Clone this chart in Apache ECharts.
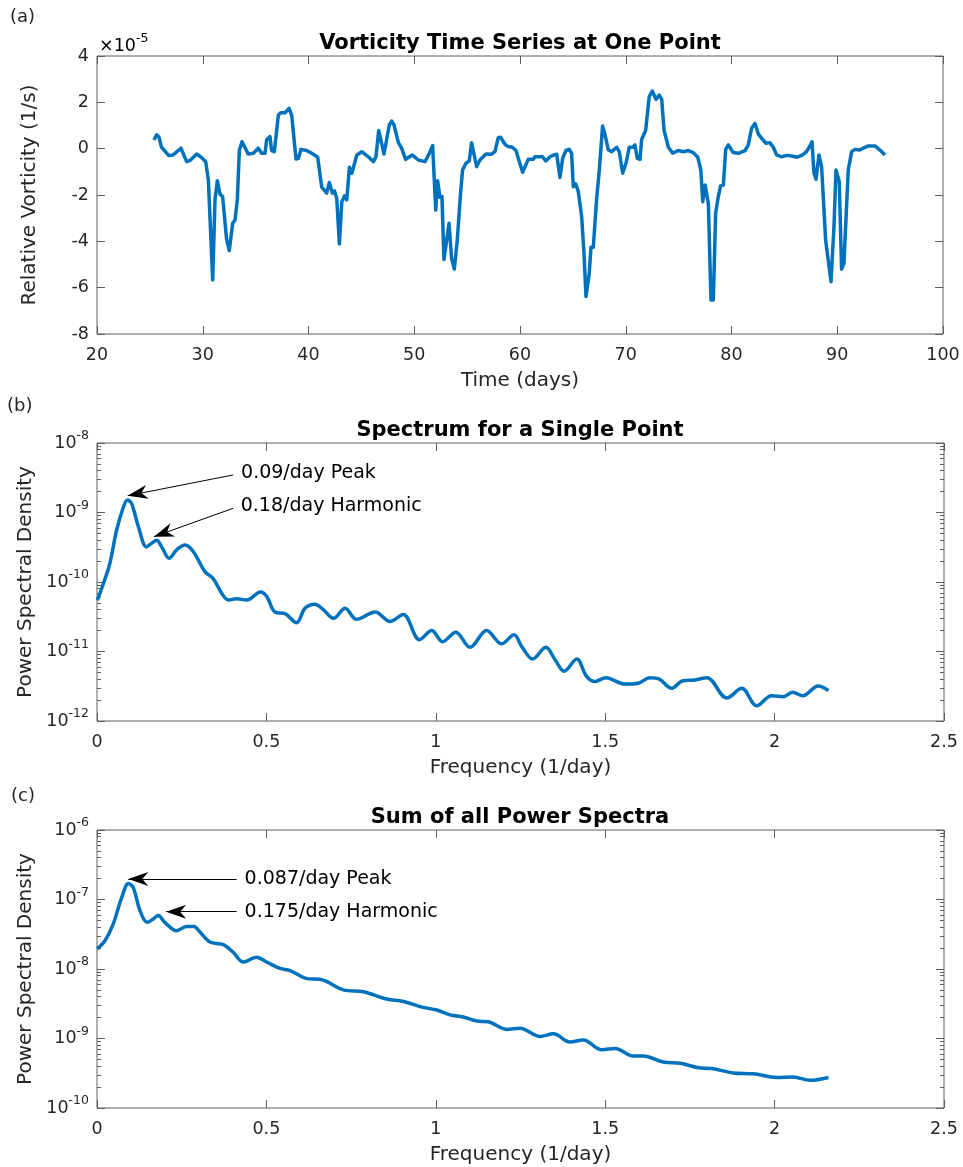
<!DOCTYPE html>
<html><head><meta charset="utf-8">
<script src="https://cdn.jsdelivr.net/npm/echarts@6/dist/echarts.min.js"></script>
<style>html,body{margin:0;padding:0;background:#fff}#c{width:963px;height:1167px}</style>
</head><body><div id="c"></div>
<script>
// ---------- (a) vorticity time series, values in units of 1e-5 1/s ----------
const timeDays = [25.39,25.64,25.86,26.1,26.8,27.2,27.94,28.48,28.8,29.43,29.9,30.28,30.53,30.94,31.16,31.38,31.63,31.88,32.26,32.51,32.83,33.05,33.27,33.46,33.71,34.3,34.78,35.25,35.57,35.89,36.04,36.36,36.51,36.77,37.15,37.37,37.78,38.16,38.41,38.82,39.04,39.29,39.83,40.3,40.87,41.25,41.72,41.97,42.26,42.45,42.67,42.92,43.15,43.4,43.62,43.87,44.1,44.57,45.04,45.66,46.14,46.38,46.64,47.14,47.64,47.86,48.09,48.5,48.8,49.18,49.81,50.38,51.02,51.43,51.74,52.03,52.21,52.43,52.62,52.81,53.29,53.53,53.79,54.07,54.38,54.57,54.89,55.2,55.42,55.9,56.21,56.78,57.31,57.63,57.94,58.17,58.58,58.89,59.27,59.62,59.94,60.25,60.78,61.26,61.42,62.14,62.43,62.84,63.22,63.47,63.78,64.03,64.35,64.66,64.88,65.04,65.26,65.51,65.83,66.05,66.24,66.55,66.71,66.93,67.24,67.5,67.81,68.04,68.35,68.67,69.14,69.39,69.71,70.02,70.33,70.65,70.87,71.09,71.35,71.5,71.88,72.22,72.51,72.86,73.17,73.4,73.62,74.03,74.44,74.97,75.45,75.92,76.39,76.81,77.1,77.28,77.5,77.66,77.81,78.06,78.28,78.5,78.75,78.97,79.23,79.45,79.7,80.17,80.65,81.28,81.59,81.9,82.22,82.54,82.94,83.26,83.63,83.95,84.27,84.74,85.21,85.68,86.22,86.72,87.1,87.42,87.61,87.8,87.99,88.27,88.52,88.9,89.41,89.69,89.88,90.19,90.41,90.63,91.04,91.36,91.68,92.09,92.46,92.94,93.57,93.73,94.04,94.51];
const vorticity = [0.37,0.6,0.5,0.06,-0.3,-0.27,0.02,-0.56,-0.51,-0.23,-0.39,-0.56,-1.35,-5.67,-2.2,-1.38,-1.96,-2.07,-3.94,-4.4,-3.22,-3.08,-2.2,-0.08,0.3,-0.23,-0.2,0.02,-0.2,-0.2,0.38,0.52,-0.08,-0.13,1.45,1.55,1.55,1.74,1.45,-0.45,-0.42,-0.03,-0.08,-0.2,-0.37,-1.66,-1.92,-1.46,-1.92,-1.82,-2.14,-4.11,-2.29,-2.04,-2.21,-0.8,-1.06,-0.27,-0.13,-0.35,-0.56,-0.35,0.78,-0.23,1.02,1.19,1.02,0.26,0.02,-0.46,-0.27,-0.49,-0.56,-0.2,0.13,-2.65,-1.38,-2.1,-2.07,-4.78,-3.22,-4.73,-5.2,-3.94,-1.92,-0.92,-0.63,-0.53,0.26,-0.78,-0.49,-0.23,-0.24,-0.13,0.47,0.49,0.19,0.09,0.06,-0.08,-0.56,-1.02,-0.46,-0.46,-0.35,-0.35,-0.53,-0.35,-0.27,-0.24,-1.24,-0.42,-0.08,-0.03,-0.2,-1.64,-1.52,-1.85,-2.93,-4.51,-6.38,-5.38,-4.26,-4.26,-2.21,-0.92,0.98,0.6,-0.05,-0.13,0.06,-0.13,-1.06,-0.63,0.06,0.06,0.16,-0.42,-0.46,0.4,0.78,2.24,2.49,2.13,2.31,2.13,0.8,0.06,-0.2,-0.08,-0.13,-0.08,-0.17,-0.37,-0.92,-2.29,-1.57,-1.57,-2.36,-6.53,-6.53,-2.79,-2.07,-1.61,-1.57,-0.03,0.16,-0.17,-0.2,-0.08,0.16,0.88,1.09,0.63,0.4,0.23,0.26,0.06,-0.27,-0.35,-0.29,-0.32,-0.37,-0.27,-0.13,0.12,0.3,-1.06,-1.32,-0.27,-0.78,-3.94,-5.74,-3.37,-0.92,-1.42,-5.2,-4.97,-0.92,-0.13,-0.03,-0.06,0.02,0.12,0.12,0.12,-0.06,-0.27];
const timeTicks = [20,30,40,50,60,70,80,90,100];
const vortTicks = [-8,-6,-4,-2,0,2,4];

// ---------- (b) spectrum for a single point ----------
const freqSingle = [0.001,0.019,0.038,0.058,0.078,0.09,0.102,0.122,0.146,0.161,0.176,0.191,0.213,0.235,0.26,0.284,0.319,0.343,0.368,0.388,0.412,0.442,0.483,0.501,0.525,0.555,0.589,0.614,0.643,0.668,0.698,0.732,0.766,0.821,0.865,0.904,0.952,0.988,1.02,1.059,1.101,1.15,1.194,1.231,1.254,1.286,1.325,1.352,1.379,1.416,1.445,1.47,1.502,1.558,1.598,1.632,1.66,1.696,1.729,1.765,1.8,1.859,1.903,1.947,1.991,2.026,2.053,2.083,2.129,2.159];
const psdSingle = [5.5e-11,9.5e-11,1.86e-10,5.6e-10,1.2e-9,1.51e-9,1.35e-9,6.3e-10,3.2e-10,3.6e-10,4.0e-10,3.2e-10,2.2e-10,2.9e-10,3.4e-10,2.75e-10,1.4e-10,1.12e-10,6.9e-11,5.5e-11,5.75e-11,5.5e-11,7.2e-11,6.2e-11,3.7e-11,3.5e-11,2.6e-11,4.2e-11,4.8e-11,4.0e-11,3.0e-11,4.2e-11,2.9e-11,3.7e-11,2.7e-11,3.4e-11,1.48e-11,2.0e-11,1.38e-11,1.9e-11,1.15e-11,2.0e-11,1.29e-11,1.74e-11,1.17e-11,7.8e-12,1.15e-11,7.6e-12,5.2e-12,7.8e-12,4.4e-12,3.7e-12,4.2e-12,3.4e-12,3.5e-12,4.2e-12,4.0e-12,2.95e-12,3.8e-12,3.9e-12,4.2e-12,2.14e-12,2.95e-12,1.66e-12,2.3e-12,2.24e-12,2.6e-12,2.3e-12,3.2e-12,2.75e-12];
const psdSingleTicks = [1e-12,1e-11,1e-10,1e-9,1e-8];

// ---------- (c) sum of all power spectra ----------
const freqSum = [0.001,0.024,0.048,0.073,0.093,0.107,0.127,0.148,0.166,0.181,0.2,0.235,0.264,0.286,0.304,0.333,0.373,0.402,0.432,0.471,0.501,0.54,0.57,0.614,0.668,0.727,0.786,0.855,0.904,0.963,1.003,1.042,1.081,1.121,1.155,1.209,1.248,1.308,1.347,1.396,1.435,1.49,1.529,1.583,1.612,1.671,1.721,1.775,1.814,1.878,1.937,2.006,2.055,2.104,2.159];
const psdSum = [1.95e-8,2.57e-8,4.47e-8,1.07e-7,1.7e-7,1.48e-7,6.9e-8,4.7e-8,5.25e-8,5.9e-8,4.7e-8,3.55e-8,4.1e-8,4.1e-8,3.4e-8,2.45e-8,2.24e-8,1.74e-8,1.26e-8,1.48e-8,1.26e-8,1.02e-8,9.5e-9,7.4e-9,6.9e-9,5.0e-9,4.7e-9,3.7e-9,3.4e-9,2.8e-9,2.57e-9,2.19e-9,2.04e-9,1.78e-9,1.74e-9,1.35e-9,1.41e-9,1.07e-9,1.17e-9,8.9e-10,9.5e-10,6.9e-10,7.2e-10,5.6e-10,5.6e-10,4.6e-10,4.4e-10,3.8e-10,3.7e-10,3.2e-10,3.1e-10,2.75e-10,2.8e-10,2.5e-10,2.75e-10];
const psdSumTicks = [1e-10,1e-9,1e-8,1e-7,1e-6];
const freqTicks = [0,0.5,1,1.5,2,2.5];

// ---------- annotations: [text, from (freq, psd), to (freq, psd)] ----------
const notesSingle = [
  ['0.09/day Peak', [0.402, 3.47e-9], [0.0906, 1.745e-9]],
  ['0.18/day Harmonic', [0.402, 1.15e-9], [0.168, 4.49e-10]]
];
const notesSum = [
  ['0.087/day Peak', [0.412, 1.97e-7], [0.0924, 1.97e-7]],
  ['0.175/day Harmonic', [0.412, 6.67e-8], [0.204, 6.67e-8]]
];

const FONT = 'DejaVu Sans';
const AX = '#262626';
const BOX = '#5e5e5e';
const BLUE = '#0072BD';

function zip(a, b) { return a.map((v, i) => [v, b[i]]); }
function minorTicks(ticks) {
  const out = [];
  for (let i = 0; i < ticks.length - 1; i++) for (let m = 2; m <= 9; m++) out.push(m * ticks[i]);
  return out;
}

const lbl = { color: AX, fontSize: 17.5, fontFamily: FONT };
const nameStyle = { color: AX, fontSize: 20, fontFamily: FONT };
const powRich = {
  b: { fontSize: 17.5, fontFamily: FONT, color: AX, lineHeight: 26, verticalAlign: 'middle' },
  s: { fontSize: 12.5, fontFamily: FONT, color: AX, lineHeight: 13, padding: [0, 0, 14, 0], verticalAlign: 'middle' }
};
function powLabel(v) { return '{b|10}{s|' + Math.round(Math.log10(v)) + '}'; }

function xAxis(grid, ticks, main, name) {
  return {
    type: 'value', gridIndex: grid, min: ticks[0], max: ticks[ticks.length - 1],
    interval: ticks[1] - ticks[0], position: main ? 'bottom' : 'top', offset: 0,
    axisLine: { show: false, onZero: false }, splitLine: { show: false },
    axisTick: { show: true, inside: true, length: 8, lineStyle: { color: BOX } },
    axisLabel: Object.assign({ show: main, margin: 12 }, lbl),
    name: main ? name : '', nameLocation: 'middle', nameGap: 37, nameTextStyle: nameStyle
  };
}
function yLin(grid, ticks, side, name) {
  const main = side === 'left';
  return {
    type: 'value', gridIndex: grid, min: ticks[0], max: ticks[ticks.length - 1],
    interval: ticks[1] - ticks[0], position: side, offset: 0,
    axisLine: { show: false, onZero: false }, splitLine: { show: false },
    axisTick: { show: true, inside: true, length: 8, lineStyle: { color: BOX } },
    axisLabel: Object.assign({ show: main, margin: 8 }, lbl),
    name: main ? name : '', nameLocation: 'middle', nameGap: 57, nameTextStyle: nameStyle
  };
}
function yLog(grid, ticks, side, major, name) {
  const main = side === 'left' && major;
  return {
    type: 'log', logBase: 10, gridIndex: grid, min: ticks[0], max: ticks[ticks.length - 1],
    position: side, offset: 0,
    axisLine: { show: false, onZero: false }, splitLine: { show: false },
    axisTick: { show: true, inside: true, length: major ? 8 : 4, lineStyle: { color: BOX },
      customValues: major ? ticks : minorTicks(ticks) },
    axisLabel: main ? { show: true, margin: 8, customValues: ticks, formatter: powLabel, rich: powRich }
                    : { show: false },
    name: main ? name : '', nameLocation: 'middle', nameGap: 57, nameTextStyle: nameStyle
  };
}

// dart-shaped arrow head; the empty sub-path in front extends the bounds so the tip sits on the end point
const arrowPath = 'path://M7,-20 L7,-20 M7,0 L14,20 L7,14 L0,20 Z';
function noteLines(notes) {
  return {
    silent: true, animation: false,
    symbol: ['none', arrowPath], symbolSize: [14, 40],
    lineStyle: { color: '#000', width: 1, type: 'solid' },
    label: { show: true, position: 'start', distance: 8, formatter: '{b}', color: '#000', fontSize: 19, fontFamily: FONT },
    emphasis: { disabled: true },
    data: notes.map(n => [{ coord: n[1], name: n[0] }, { coord: n[2] }])
  };
}

const gridBase = { show: true, borderColor: BOX, borderWidth: 1, backgroundColor: '#fff', containLabel: false, outerBoundsMode: 'none' };
const titleFont = 'bold 21px "DejaVu Sans"';
const tagFont = '18px "DejaVu Sans"';
const option = {
  animation: false,
  backgroundColor: '#fff',
  textStyle: { fontFamily: FONT },
  grid: [
    Object.assign({ left: 97, top: 56, width: 846, height: 278 }, gridBase),
    Object.assign({ left: 97, top: 443, width: 847, height: 278 }, gridBase),
    Object.assign({ left: 97, top: 830, width: 847, height: 278 }, gridBase)
  ],
  xAxis: [
    xAxis(0, timeTicks, true, 'Time (days)'), xAxis(0, timeTicks, false),
    xAxis(1, freqTicks, true, 'Frequency (1/day)'), xAxis(1, freqTicks, false),
    xAxis(2, freqTicks, true, 'Frequency (1/day)'), xAxis(2, freqTicks, false)
  ],
  yAxis: [
    yLin(0, vortTicks, 'left', 'Relative Vorticity (1/s)'), yLin(0, vortTicks, 'right'),
    yLog(1, psdSingleTicks, 'left', true, 'Power Spectral Density'), yLog(1, psdSingleTicks, 'right', true),
    yLog(1, psdSingleTicks, 'left', false), yLog(1, psdSingleTicks, 'right', false),
    yLog(2, psdSumTicks, 'left', true, 'Power Spectral Density'), yLog(2, psdSumTicks, 'right', true),
    yLog(2, psdSumTicks, 'left', false), yLog(2, psdSumTicks, 'right', false)
  ],
  series: [
    { type: 'line', xAxisIndex: 0, yAxisIndex: 0, data: zip(timeDays, vorticity), showSymbol: false,
      lineStyle: { color: BLUE, width: 3.5, join: 'round' }, itemStyle: { color: BLUE } },
    { type: 'line', xAxisIndex: 2, yAxisIndex: 2, data: zip(freqSingle, psdSingle), showSymbol: false, smooth: 0.35,
      lineStyle: { color: BLUE, width: 3.5 }, itemStyle: { color: BLUE }, markLine: noteLines(notesSingle) },
    { type: 'line', xAxisIndex: 4, yAxisIndex: 6, data: zip(freqSum, psdSum), showSymbol: false, smooth: 0.35,
      lineStyle: { color: BLUE, width: 3.5 }, itemStyle: { color: BLUE }, markLine: noteLines(notesSum) }
  ],
  graphic: [
    { type: 'text', x: 10, y: 17, style: { text: '(a)', font: tagFont, fill: AX, verticalAlign: 'middle' } },
    { type: 'text', x: 7, y: 406, style: { text: '(b)', font: tagFont, fill: AX, verticalAlign: 'middle' } },
    { type: 'text', x: 11, y: 796, style: { text: '(c)', font: tagFont, fill: AX, verticalAlign: 'middle' } },
    { type: 'text', x: 520, y: 44, style: { text: 'Vorticity Time Series at One Point', font: titleFont, fill: '#000', align: 'center', verticalAlign: 'middle' } },
    { type: 'text', x: 520, y: 431, style: { text: 'Spectrum for a Single Point', font: titleFont, fill: '#000', align: 'center', verticalAlign: 'middle' } },
    { type: 'text', x: 520, y: 818, style: { text: 'Sum of all Power Spectra', font: titleFont, fill: '#000', align: 'center', verticalAlign: 'middle' } },
    { type: 'text', x: 99, y: 46, style: { text: '{b|×10}{s|-5}', rich: powRich, verticalAlign: 'middle' } }
  ]
};
const chart = echarts.init(document.getElementById('c'), null, { renderer: 'canvas', width: 963, height: 1167 });
chart.setOption(option);
</script></body></html>
